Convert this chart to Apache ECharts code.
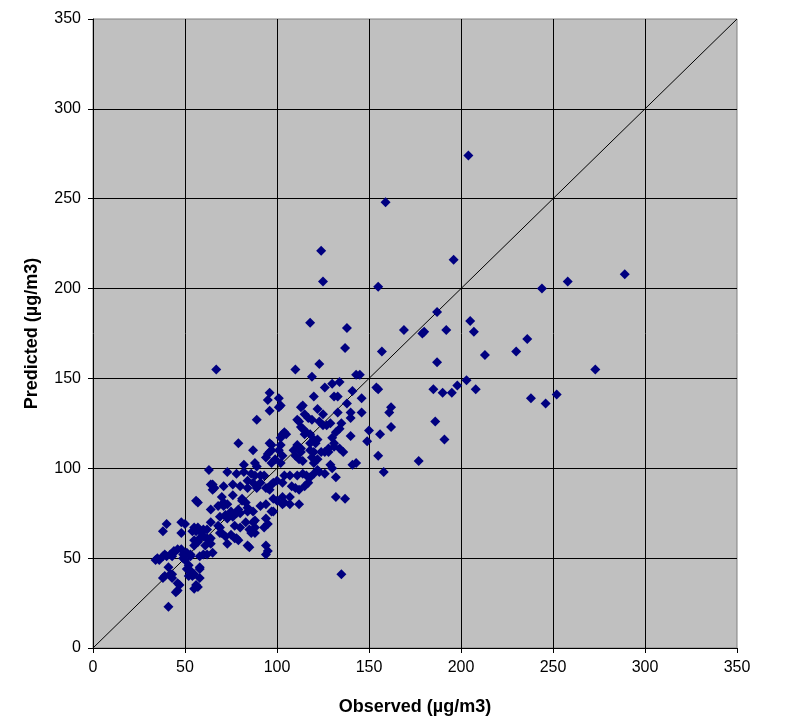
<!DOCTYPE html>
<html>
<head>
<meta charset="utf-8">
<script src="https://cdn.jsdelivr.net/npm/echarts@6/dist/echarts.min.js"></script>
<style>html,body{margin:0;padding:0;background:#fff;}#chart{width:804px;height:728px;}</style>
</head>
<body>
<div id="chart"></div>
<script>
// Axis ticks
const axisTicks = [0, 50, 100, 150, 200, 250, 300, 350];
const xTitle = 'Observed (µg/m3)';
const yTitle = 'Predicted (µg/m3)';
// 1:1 reference line endpoints
const oneToOneLine = [[0, 0], [350, 350]];

// [observed, predicted] pairs - outliers / high values
const pointsHigh = [
[204,274],[159,248],[124,221],[125,204],[155,201],[196,216],[244,200],[258,204],[289,208],[273,155],
[236,172],[230,165],[213,163],[238,139],[246,136],[252,141],[205,182],[207,176],[187,187],[192,177],
[179,175],[180,176],[169,177],[187,159],[203,149],[198,146],[195,142],[190,142],[185,144],[208,144],
[186,126],[191,116],[177,104],[158,98],[156,119],[155,107],[162,123],[161,131],[162,134],[157,165],
[154,145],[155,144],[150,121],[149,115],[146,139],[146,131],[145,152],[138,178],[137,167],[123,158],
[118,181],[110,155],[67,155],[135,41],[132,84],[137,83],[143,103],[41,23]
];
// upper-middle cluster
const pointsUpperMid = [
[119,151],[120,140],[126,145],[130,147],[134,148],[143,152],[141,143],[131,140],[133,140],[138,136],
[140,131],[140,128],[140,118],[133,131],[135,125],[96,142],[95,138],[101,139],[102,135],[101,134],
[96,132],[89,127],[79,114],[87,110],[114,135],[113,134],[122,133],[115,130],[117,128],[119,127],
[111,127],[123,126],[125,124],[129,125],[134,122],[132,120],[130,117],[131,114],[131,112],[128,111],
[126,109],[128,109],[134,111],[136,109],[124,109],[122,105],[120,116],[121,114],[118,114],[114,122],
[116,120],[115,119],[111,113],[113,111],[109,110],[113,109],[110,107],[112,105],[114,104],[118,110],
[120,109],[119,106],[103,119],[104,120],[102,117],[96,114],[97,110],[99,105],[103,107],[102,103],
[105,119],[102,113],[101,110],[97,113],[96,109],[125,130],[141,102],[132,95],[130,100],[126,97],
[122,99],[120,97],[116,96],[114,97],[111,96],[107,96],[104,96],[103,92],[108,90],[98,92],
[96,88],[110,89],[112,88],[115,90],[107,84],[103,84],[100,82],[103,80],[107,80],[112,80],
[129,102],[123,98],[117,92],[118,95],[120,103],[122,116],[127,124],[112,126],[113,123],[118,119]
];
// lower-middle cluster
const pointsLowerMid = [
[82,102],[89,101],[95,108],[94,106],[97,103],[63,99],[73,98],[78,97],[82,98],[86,97],
[88,96],[91,96],[65,91],[65,88],[71,90],[76,91],[80,90],[84,93],[84,89],[87,92],
[95,89],[97,91],[56,82],[57,81],[70,84],[71,81],[76,85],[81,83],[83,81],[64,77],
[68,79],[75,76],[79,77],[84,78],[87,76],[91,79],[69,73],[73,72],[75,74],[80,75],
[84,76],[77,68],[80,67],[83,70],[87,70],[88,67],[94,72],[95,69],[93,67],[94,80],
[98,76],[104,81],[64,70],[62,66],[69,64],[72,62],[75,63],[73,58],[78,61],[84,57],
[94,57],[94,52],[95,54],[88,71],[85,66],[86,64],[88,64],[85,56],[79,60],[77,61],
[78,75],[76,73],[81,82],[73,80],[71,79],[72,74],[69,67],[70,64],[68,68],[66,89],
[64,91],[98,83],[97,76],[91,92],[89,89],[93,96],[88,103],[94,89],[100,93]
];
// lower-left cluster
const pointsLow = [
[57,59],[58,61],[60,62],[63,60],[64,58],[64,61],[60,66],[57,67],[56,65],[60,52],
[62,52],[58,51],[55,60],[55,57],[53,52],[54,65],[50,69],[48,64],[58,45],[58,39],
[56,35],[57,34],[55,33],[52,46],[51,44],[52,40],[54,40],[50,49],[46,55],[48,55],
[44,53],[43,51],[42,52],[40,51],[38,51],[35,50],[34,49],[38,65],[40,69],[41,45],
[42,41],[43,41],[38,39],[47,35],[46,32],[49,52],[49,50],[51,53],[53,51],[59,64],
[62,61],[61,57],[65,53],[55,41],[45,31],[46,36],[53,43],[58,44],[39,40],[43,39],
[36,49],[39,52],[44,54],[48,70],[55,67]
];

const allPoints = pointsHigh.concat(pointsUpperMid, pointsLowerMid, pointsLow);

const FONT = '"Liberation Sans", Arial, sans-serif';
const chart = echarts.init(document.getElementById('chart'), null, {renderer: 'canvas'});

function axisCfg(name, gap) {
  return {
    type: 'value', min: axisTicks[0], max: axisTicks[axisTicks.length - 1], interval: 50,
    name: name, nameLocation: 'middle', nameGap: gap,
    nameTextStyle: {fontFamily: FONT, fontSize: 18, fontWeight: 'bold', color: '#000'},
    axisLine: {show: true, onZero: false, lineStyle: {color: '#000', width: 1}},
    axisTick: {show: true, inside: false, length: 5, lineStyle: {color: '#000'}},
    axisLabel: {fontFamily: FONT, fontSize: 16, color: '#000', margin: 12},
    splitLine: {show: true, showMinLine: false, showMaxLine: false, lineStyle: {color: '#000', width: 1}}
  };
}

chart.setOption({
  backgroundColor: '#fff',
  animation: false,
  grid: {left: 93, right: 67, top: 19, bottom: 80, show: true, backgroundColor: '#C0C0C0', borderColor: '#808080', borderWidth: 1},
  xAxis: axisCfg(xTitle, 50),
  yAxis: axisCfg(yTitle, 52),
  series: [
    {
      type: 'line', data: oneToOneLine, symbol: 'none', silent: true,
      lineStyle: {color: '#000', width: 1}, z: 2
    },
    {
      type: 'scatter', data: allPoints, symbol: 'diamond', symbolSize: 10,
      itemStyle: {color: '#000080', opacity: 1}, z: 3
    }
  ]
});
</script>
</body>
</html>
